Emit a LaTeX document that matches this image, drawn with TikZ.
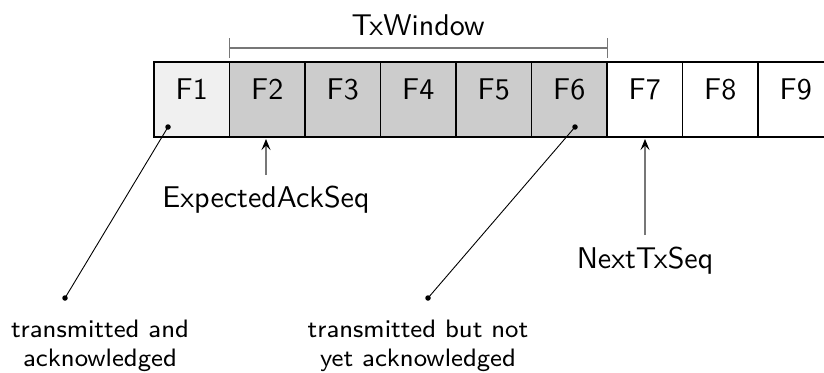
\documentclass[tikz,border=0pt]{standalone}
\usetikzlibrary{arrows.meta}
\definecolor{lightcell}{HTML}{F0F0F0}
\definecolor{darkcell}{HTML}{CCCCCC}
\definecolor{guide}{HTML}{777777}
\newcommand{\bigtxt}[1]{\scalebox{3}{\sffamily\fontsize{10}{12}\selectfont #1}}
\newcommand{\smalltxt}[2]{\scalebox{3.15}{\sffamily\fontsize{8}{9}\selectfont\begin{tabular}[b]{@{}c@{}}#1\\#2\end{tabular}}}
\begin{document}
\begin{tikzpicture}[x=1pt,y=-1pt,
  cell/.style={draw=black, line width=1.2pt, minimum width=75.5pt, minimum height=75pt,
    inner sep=0pt, text height=11pt, text depth=11pt},
  big/.style={inner sep=0pt},
  small/.style={inner sep=0pt},
  guideline/.style={draw=guide, line width=1.2pt},
  pointer/.style={draw=guide, line width=1.3pt, -{Stealth[black, length=11pt, width=9pt, inset=4.5pt]}},
  leader/.style={draw=black, line width=0.9pt},
  dotmark/.style={circle, fill=black, inner sep=0pt, minimum size=5.5pt}]
\useasboundingbox (0,0) rectangle (824,372);
\clip (0,0) rectangle (824,372);
% cells
\node[cell, fill=lightcell] (f1) at (191.75,99.5) {\bigtxt{F1}};
\node[cell, fill=darkcell]  (f2) at (267.25,99.5) {\bigtxt{F2}};
\node[cell, fill=darkcell]  (f3) at (342.75,99.5) {\bigtxt{F3}};
\node[cell, fill=darkcell]  (f4) at (418.25,99.5) {\bigtxt{F4}};
\node[cell, fill=darkcell]  (f5) at (493.75,99.5) {\bigtxt{F5}};
\node[cell, fill=darkcell]  (f6) at (569.25,99.5) {\bigtxt{F6}};
\node[cell, fill=white]     (f7) at (644.75,99.5) {\bigtxt{F7}};
\node[cell, fill=white]     (f8) at (720.25,99.5) {\bigtxt{F8}};
\node[cell, fill=white]     (f9) at (795.75,99.5) {\bigtxt{F9}};
% window bracket
\coordinate (wl) at (229.5,48);
\coordinate (wr) at (607.5,48);
\draw[guideline] (wl) -- (wr);
\draw[guideline] ([yshift=-10pt]wl) -- ([yshift=10pt]wl);
\draw[guideline] ([yshift=-10pt]wr) -- ([yshift=10pt]wr);
\node[big, anchor=base] (txw) at (418,35) {\bigtxt{TxWindow}};
% pointers
\node[big, anchor=base] (eas) at (266,207) {\bigtxt{ExpectedAckSeq}};
\coordinate (easfoot) at (266,175);
\coordinate (eashead) at (266,139);
\draw[pointer] (easfoot) -- (eashead);
\node[big, anchor=base] (nts) at (645,268) {\bigtxt{NextTxSeq}};
\coordinate (ntsfoot) at (645,235);
\coordinate (ntshead) at (645,139);
\draw[pointer] (ntsfoot) -- (ntshead);
% leaders
\node[dotmark] (d1) at (168,127) {};
\node[dotmark] (d2) at (575,127) {};
\node[dotmark] (e1) at (65,298) {};
\node[dotmark] (e2) at (428,298) {};
\draw[leader] (d1.center) -- (e1.center);
\draw[leader] (d2.center) -- (e2.center);
\node[small, anchor=base] (t1) at (100,366) {\smalltxt{transmitted and}{acknowledged}};
\node[small, anchor=base] (t2) at (418,366) {\smalltxt{transmitted but not}{yet acknowledged}};
\end{tikzpicture}
\end{document}
